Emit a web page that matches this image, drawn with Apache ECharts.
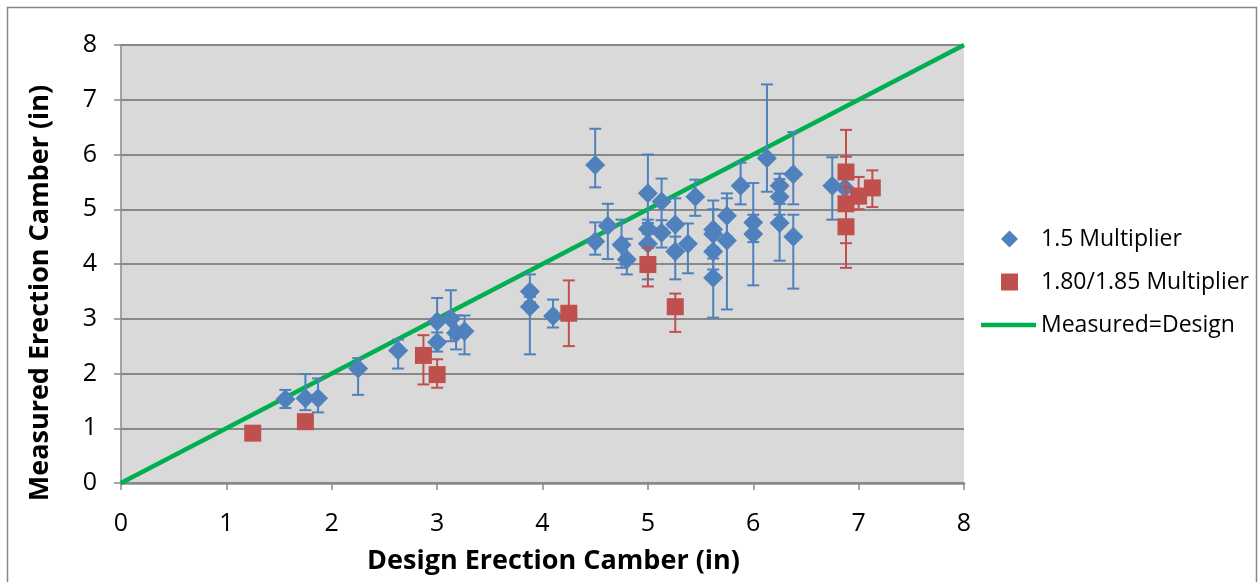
<!DOCTYPE html>
<html>
<head>
<meta charset="utf-8">
<title>Measured vs Design Erection Camber</title>
<script src="https://cdn.jsdelivr.net/npm/echarts@6/dist/echarts.min.js"></script>
<style>
  html, body { margin: 0; padding: 0; background: #ffffff; }
  #chart { width: 1260px; height: 582px; }
</style>
</head>
<body>
<div id="chart"></div>
<script>
// Girders designed with the 1.5 multiplier: [design, measured, low, high] (in)
const mult15 = [
  [1.56, 1.53, 1.37, 1.70],
  [1.75, 1.55, 1.33, 1.99],
  [1.87, 1.55, 1.29, 1.91],
  [2.25, 2.09, 1.61, 2.28],
  [2.63, 2.42, 2.09, 2.62],
  [3.00, 2.95, 2.62, 3.38],
  [3.00, 2.57, 2.40, 2.75],
  [3.13, 3.00, 2.59, 3.52],
  [3.18, 2.74, 2.44, 3.06],
  [3.26, 2.77, 2.35, 3.06],
  [3.88, 3.50, 3.30, 3.81],
  [3.88, 3.22, 2.35, 3.40],
  [4.10, 3.05, 2.84, 3.35],
  [4.50, 5.81, 5.40, 6.47],
  [4.50, 4.41, 4.17, 4.76],
  [4.62, 4.70, 4.09, 5.10],
  [4.75, 4.35, 3.93, 4.81],
  [4.80, 4.08, 3.81, 4.46],
  [5.00, 5.29, 4.75, 6.00],
  [5.00, 4.64, 4.30, 4.81],
  [5.00, 4.37, 3.72, 4.55],
  [5.13, 5.14, 4.65, 5.56],
  [5.13, 4.57, 4.30, 4.80],
  [5.26, 4.72, 4.30, 5.20],
  [5.26, 4.23, 3.72, 4.50],
  [5.38, 4.37, 3.83, 4.74],
  [5.45, 5.23, 4.88, 5.54],
  [5.62, 4.63, 4.30, 5.16],
  [5.62, 4.55, 4.20, 5.00],
  [5.62, 4.23, 3.90, 4.60],
  [5.62, 3.75, 3.02, 4.10],
  [5.75, 4.88, 4.50, 5.29],
  [5.75, 4.43, 3.17, 5.20],
  [5.88, 5.43, 5.09, 5.85],
  [6.13, 5.93, 5.32, 7.28],
  [6.00, 4.76, 4.40, 5.48],
  [6.00, 4.55, 3.61, 4.90],
  [6.25, 5.43, 5.10, 5.65],
  [6.25, 5.23, 4.90, 5.55],
  [6.25, 4.75, 4.06, 5.10],
  [6.38, 5.64, 5.09, 6.41],
  [6.38, 4.50, 3.55, 4.90],
  [6.75, 5.43, 4.81, 5.95],
  [6.87, 5.39, 5.20, 5.60]
];

// Girders designed with the 1.80/1.85 multiplier: [design, measured, low, high] (in)
const mult180 = [
  [1.25, 0.91, 0.85, 0.97],
  [1.75, 1.12, 1.05, 1.19],
  [2.87, 2.33, 1.80, 2.70],
  [3.00, 1.98, 1.74, 2.26],
  [4.25, 3.10, 2.50, 3.70],
  [5.00, 3.99, 3.59, 4.30],
  [5.26, 3.22, 2.76, 3.46],
  [6.88, 5.68, 5.40, 6.45],
  [6.88, 5.10, 4.38, 5.96],
  [6.88, 4.68, 3.93, 5.10],
  [7.00, 5.24, 5.00, 5.59],
  [7.13, 5.39, 5.04, 5.71]
];

// Equality line endpoints
const equalityLine = [[0, 0], [8, 8]];

const axisTicks = [0, 1, 2, 3, 4, 5, 6, 7, 8];

const seriesNames = ['1.5 Multiplier', '1.80/1.85 Multiplier', 'Measured=Design'];
const xTitle = 'Design Erection Camber (in)';
const yTitle = 'Measured Erection Camber (in)';

const BLUE = '#4f81bd';
const RED = '#c0504d';
const GREEN = '#00b050';
const GRID_GRAY = '#898989';
const FONT = '"Open Sans", "Liberation Sans", sans-serif';

// Vertical error bar with caps, placed through the axis scales
function errorBar(color) {
  return function (params, api) {
    const x = api.value(0);
    const top = api.coord([x, api.value(3)]);
    const bot = api.coord([x, api.value(2)]);
    const half = 6;
    const st = { stroke: color, lineWidth: 2 };
    return {
      type: 'group',
      children: [
        { type: 'line', shape: { x1: top[0], y1: top[1], x2: bot[0], y2: bot[1] }, style: st },
        { type: 'line', shape: { x1: top[0] - half, y1: top[1], x2: top[0] + half, y2: top[1] }, style: st },
        { type: 'line', shape: { x1: bot[0] - half, y1: bot[1], x2: bot[0] + half, y2: bot[1] }, style: st }
      ]
    };
  };
}

const legendText = { fontFamily: FONT, fontSize: 23, color: '#000', lineHeight: 28 };
const titleText = { fontFamily: FONT, fontSize: 27, fontWeight: 'bold', color: '#000', lineHeight: 32 };

const chart = echarts.init(document.getElementById('chart'), null, { renderer: 'canvas' });

chart.setOption({
  backgroundColor: '#ffffff',
  animation: false,
  graphic: [{
    type: 'rect',
    shape: { x: 7.5, y: 7.5, width: 1249, height: 620 },
    style: { fill: 'none', stroke: '#868686', lineWidth: 1.5 },
    silent: true,
    z: -10
  }],
  grid: {
    left: 121, right: 296, top: 45, bottom: 98,
    show: true, backgroundColor: '#d9d9d9', borderWidth: 0
  },
  legend: [
    {
      left: 996, top: 220, itemWidth: 17, itemHeight: 17, itemGap: 0,
      data: [{ name: seriesNames[0], icon: 'diamond' }],
      textStyle: Object.assign({ padding: [0, 0, 0, 18] }, legendText),
      selectedMode: false
    },
    {
      left: 996, top: 263, itemWidth: 17, itemHeight: 17, itemGap: 0,
      data: [{ name: seriesNames[1], icon: 'rect' }],
      textStyle: Object.assign({ padding: [0, 0, 0, 18] }, legendText),
      selectedMode: false
    },
    {
      left: 976, top: 306, itemWidth: 55, itemHeight: 4.5, itemGap: 0,
      data: [{ name: seriesNames[2], icon: 'rect' }],
      textStyle: Object.assign({ padding: [0, 0, 0, 0] }, legendText),
      selectedMode: false
    }
  ],
  xAxis: {
    type: 'value', min: axisTicks[0], max: axisTicks[axisTicks.length - 1], interval: 1,
    name: xTitle, nameLocation: 'middle', nameGap: 62,
    nameTextStyle: Object.assign({ padding: [0, 0, 0, 22] }, titleText),
    axisLine: { show: true, onZero: false, lineStyle: { color: GRID_GRAY, width: 2.5 } },
    axisTick: { show: true, length: 7, lineStyle: { color: GRID_GRAY, width: 1.5 } },
    axisLabel: { margin: 27, fontFamily: FONT, fontSize: 25, color: '#000', lineHeight: 28 },
    splitLine: { show: false }
  },
  yAxis: {
    type: 'value', min: axisTicks[0], max: axisTicks[axisTicks.length - 1], interval: 1,
    name: yTitle, nameLocation: 'middle', nameGap: 65,
    nameTextStyle: Object.assign({ padding: [0, 58, 0, 0] }, titleText),
    axisLine: { show: true, lineStyle: { color: GRID_GRAY, width: 1.5 } },
    axisTick: { show: true, length: 7, lineStyle: { color: GRID_GRAY, width: 1.5 } },
    axisLabel: { margin: 24, fontFamily: FONT, fontSize: 25, color: '#000' },
    splitLine: { show: true, lineStyle: { color: GRID_GRAY, width: 2 } }
  },
  series: [
    {
      name: seriesNames[2], type: 'line', data: equalityLine,
      symbol: 'none', showSymbol: false, z: 2,
      lineStyle: { color: GREEN, width: 4.5 }, itemStyle: { color: GREEN }
    },
    {
      type: 'custom', data: mult15, renderItem: errorBar(BLUE),
      encode: { x: 0, y: [1, 2, 3] }, z: 3, silent: true
    },
    {
      name: seriesNames[0], type: 'scatter', data: mult15.map(d => [d[0], d[1]]),
      symbol: 'diamond', symbolSize: 20, z: 4,
      itemStyle: { color: BLUE, opacity: 1 }
    },
    {
      type: 'custom', data: mult180, renderItem: errorBar(RED),
      encode: { x: 0, y: [1, 2, 3] }, z: 5, silent: true
    },
    {
      name: seriesNames[1], type: 'scatter', data: mult180.map(d => [d[0], d[1]]),
      symbol: 'rect', symbolSize: 17, z: 6,
      itemStyle: { color: RED, opacity: 1 }
    }
  ]
});
</script>
</body>
</html>
